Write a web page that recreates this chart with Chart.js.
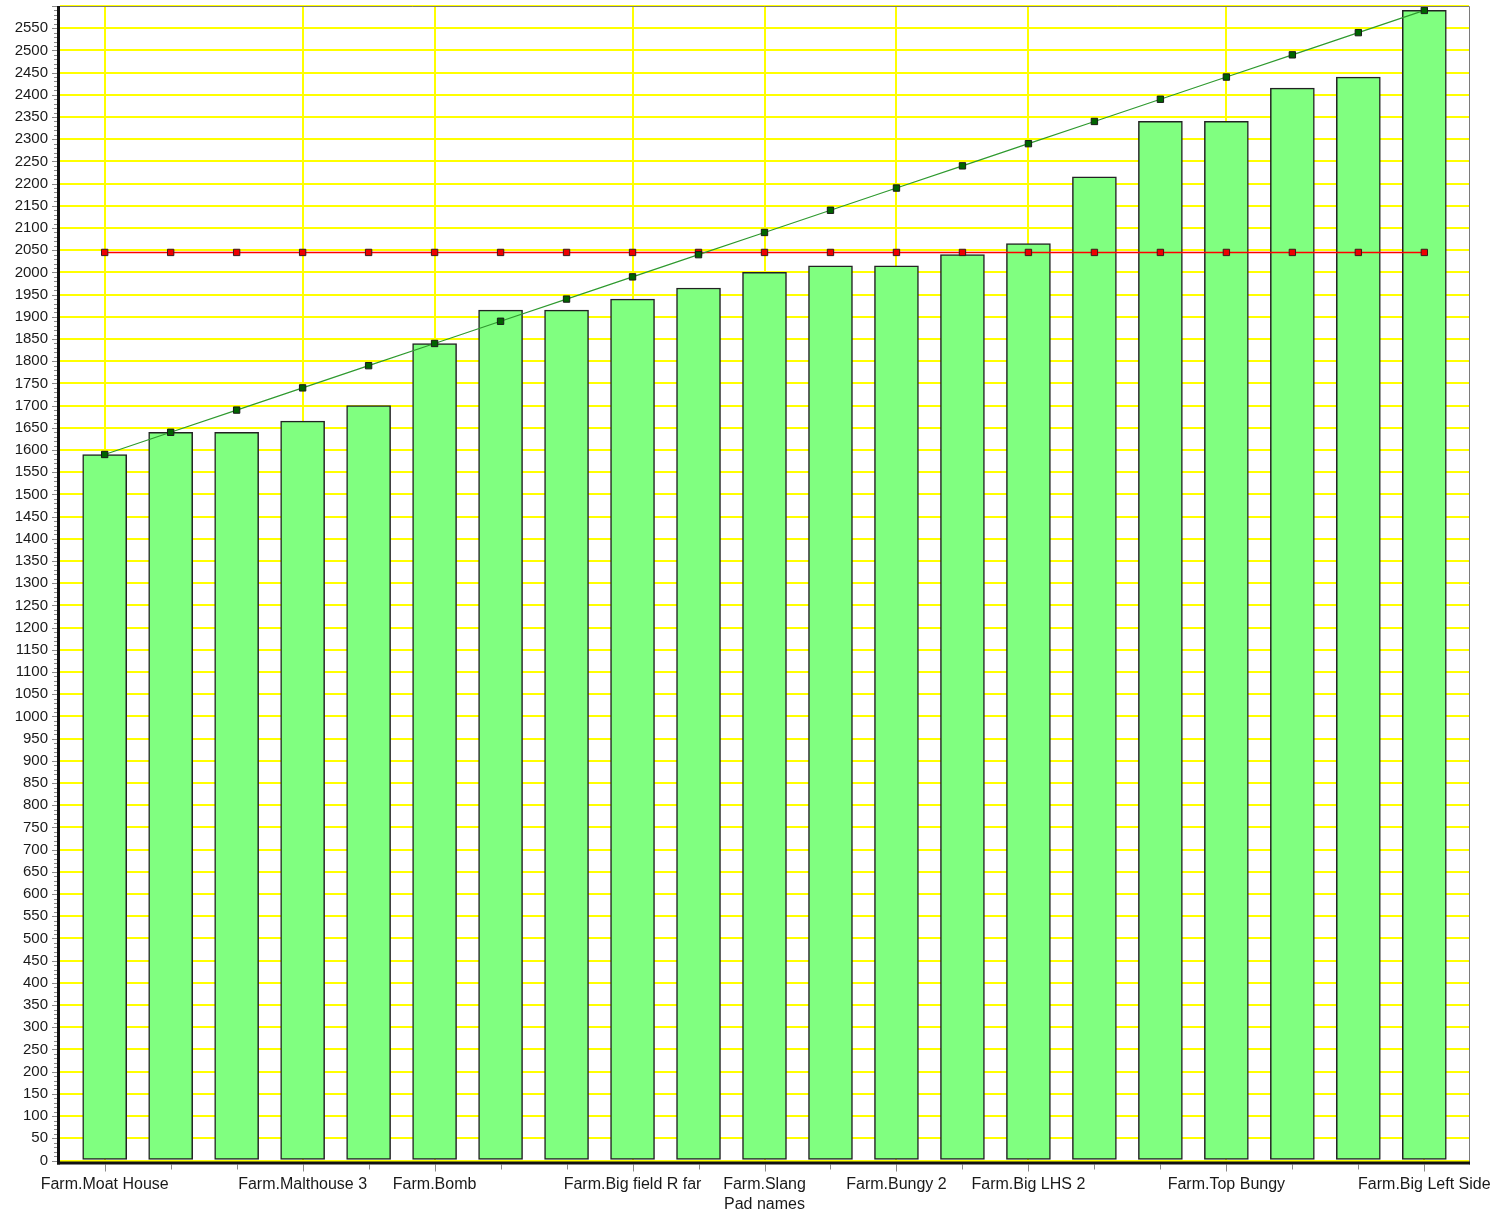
<!DOCTYPE html>
<html>
<head>
<meta charset="utf-8">
<script src="https://cdn.jsdelivr.net/npm/chart.js@4.4.1/dist/chart.umd.min.js"></script>
<style>
  html, body { margin: 0; padding: 0; background: #ffffff; }
  #wrap { width: 1493px; height: 1214px; position: relative; }
</style>
</head>
<body>
<div id="wrap"><canvas id="c" width="1493" height="1214"></canvas></div>
<script>
// ---- data ----
const padNames = [
  "Farm.Moat House", "", "", "Farm.Malthouse 3", "", "Farm.Bomb", "", "",
  "Farm.Big field R far", "", "Farm.Slang", "", "Farm.Bungy 2", "", "Farm.Big LHS 2",
  "", "", "Farm.Top Bungy", "", "", "Farm.Big Left Side"
];
const padValues = [1590, 1640, 1640, 1665, 1700, 1840, 1915, 1915, 1940, 1965, 2000,
  2015, 2015, 2040, 2065, 2215, 2340, 2340, 2415, 2440, 2590];
const levelLine = [2045, 2045, 2045, 2045, 2045, 2045, 2045, 2045, 2045, 2045, 2045,
  2045, 2045, 2045, 2045, 2045, 2045, 2045, 2045, 2045, 2045];
const trendLine = [1590, 1640, 1690, 1740, 1790, 1840, 1890, 1940, 1990, 2040, 2090,
  2140, 2190, 2240, 2290, 2340, 2390, 2440, 2490, 2540, 2590];
const labeledTicks = [0, 3, 5, 8, 10, 12, 14, 17, 20];
const xTitle = "Pad names";

const toXY = arr => arr.map((v, i) => ({ x: i, y: v }));

const axisPlugin = {
  id: 'axisDeco',
  afterDraw(chart) {
    const ctx = chart.ctx;
    const a = chart.chartArea;
    const xs = chart.scales.x, ys = chart.scales.y;
    ctx.save();
    // top & right thin borders
    ctx.strokeStyle = '#7a7a7a';
    ctx.lineWidth = 1;
    ctx.beginPath();
    ctx.moveTo(a.left, a.top + 0.5); ctx.lineTo(a.right + 0.5, a.top + 0.5);
    ctx.lineTo(a.right + 0.5, a.bottom + 4);
    ctx.stroke();
    // y minor & major ticks
    ctx.strokeStyle = '#8a8a8a';
    for (let v = 0; v <= 2600; v += 10) {
      const y = Math.round(ys.getPixelForValue(v)) + 0.5;
      const len = (v % 50 === 0) ? 5 : 3;
      ctx.beginPath();
      ctx.moveTo(a.left - 3 - len, y); ctx.lineTo(a.left - 3, y);
      ctx.stroke();
    }
    // x ticks for every category
    for (let i = 0; i < padValues.length; i++) {
      const x = Math.round(xs.getPixelForValue(i)) + 0.5;
      const len = labeledTicks.includes(i) ? 7 : 5;
      ctx.beginPath();
      ctx.moveTo(x, a.bottom + 4); ctx.lineTo(x, a.bottom + 4 + len);
      ctx.stroke();
    }
    // thick black axes
    ctx.fillStyle = '#111111';
    ctx.fillRect(a.left - 3, a.top, 3, a.bottom - a.top + 4);
    ctx.fillRect(a.left - 3, a.bottom + 1, a.right - a.left + 4, 3);
    ctx.restore();
  }
};

new Chart(document.getElementById('c'), {
  type: 'bar',
  data: {
    datasets: [
      {
        type: 'line',
        label: 'Trend',
        data: toXY(trendLine),
        borderColor: '#2f9a2f',
        borderWidth: 1.2,
        pointStyle: 'rect',
        pointRadius: 4.5,
        pointBackgroundColor: '#006400',
        pointBorderColor: '#1a1a1a',
        pointBorderWidth: 1,
        fill: false,
        order: 1
      },
      {
        type: 'line',
        label: 'Level',
        data: toXY(levelLine),
        borderColor: '#ff0000',
        borderWidth: 1.5,
        pointStyle: 'rect',
        pointRadius: 4.5,
        pointBackgroundColor: '#ee0000',
        pointBorderColor: '#3a1a1a',
        pointBorderWidth: 1,
        fill: false,
        order: 2
      },
      {
        type: 'bar',
        label: 'Pads',
        data: toXY(padValues),
        backgroundColor: '#80ff80',
        borderColor: '#222222',
        borderWidth: 1.5,
        borderSkipped: false,
        barThickness: 44,
        order: 3
      }
    ]
  },
  options: {
    responsive: false,
    animation: false,
    events: [],
    layout: { padding: { top: 6, right: 24, left: 0, bottom: 0 } },
    plugins: { legend: { display: false }, tooltip: { enabled: false } },
    scales: {
      x: {
        type: 'linear',
        offset: false,
        min: -0.677,
        max: 20.677,
        afterBuildTicks(scale) {
          scale.ticks = labeledTicks.map(v => ({ value: v }));
        },
        afterFit(scale) {
          scale.height = 53.5;
          scale.paddingLeft = 0; scale.paddingRight = 0;
        },
        ticks: {
          autoSkip: false,
          maxRotation: 0,
          padding: 14,
          color: '#1a1a1a',
          font: { family: 'Liberation Sans', size: 16 },
          callback: (v) => padNames[v] || ''
        },
        grid: { color: '#ffff00', lineWidth: 2, drawTicks: false, offset: false },
        border: { display: false },
        title: {
          display: true,
          text: xTitle,
          color: '#1a1a1a',
          font: { family: 'Liberation Sans', size: 16 },
          padding: { top: 0, bottom: 0 }
        }
      },
      y: {
        min: 0,
        max: 2600,
        afterFit(scale) {
          scale.width = 60;
          scale.paddingTop = 0; scale.paddingBottom = 0;
        },
        ticks: {
          stepSize: 50,
          autoSkip: false,
          padding: 12,
          color: '#1a1a1a',
          font: { family: 'Liberation Sans', size: 15 },
          callback: (v) => v === 2600 ? '' : String(v)
        },
        grid: { color: '#ffff00', lineWidth: 2, drawTicks: false },
        border: { display: false }
      }
    }
  },
  plugins: [axisPlugin]
});
</script>
</body>
</html>
